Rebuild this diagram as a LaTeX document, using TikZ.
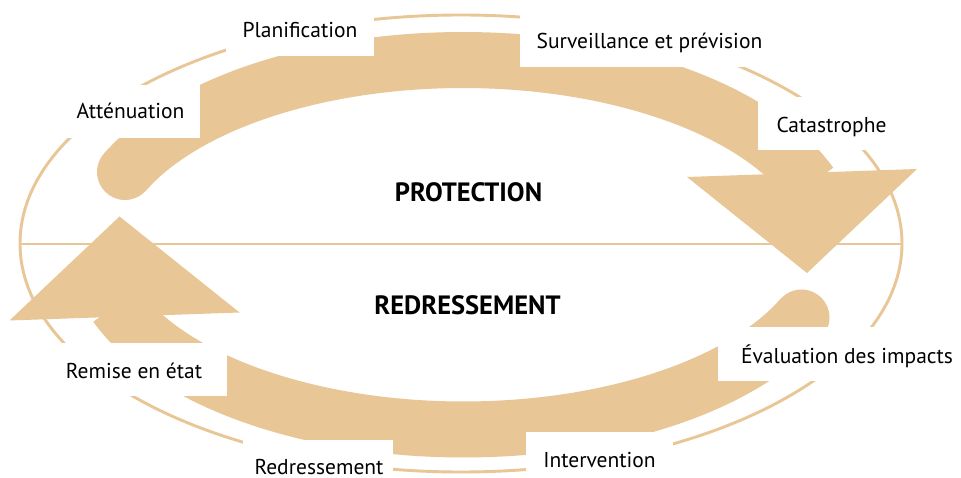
\documentclass[tikz,border=0pt]{standalone}
\usepackage{fontspec}
\setmainfont{PT Sans}
\definecolor{tan}{RGB}{232,198,150}
\begin{document}
\begin{tikzpicture}[x=1pt,y=-1pt,
  outline/.style={draw=tan,line width=2.9pt},
  band/.style={draw=tan,line width=56pt,line cap=butt},
  mask/.style={fill=white},
  lbl/.style={inner sep=0pt,anchor=base,font=\fontsize{21.5}{24}\selectfont},
  big/.style={inner sep=0pt,anchor=base,font=\fontsize{26.5}{30}\selectfont\bfseries}]
\useasboundingbox (0,0) rectangle (961,478);
\fill[white] (0,0) rectangle (961,478);
% outer ellipse and divider
\draw[outline] (461,243.5) ellipse [x radius=441, y radius=228.5];
\coordinate (hl) at (21,244);
\coordinate (hr) at (901,244);
\draw[outline] (hl) -- (hr);
% two arrows (second = first rotated 180 degrees)
\foreach \r in {0,180}{
\begin{scope}[rotate around={\r:(463.25,244.75)}]
  \draw[band] plot[domain=20:156,samples=120] ({463+370*cos(\x)},{249-189*sin(\x)});
  \fill[tan] (125,172) circle[radius=28];
  \fill[tan] (687,177) -- (917,169) -- (807,273) -- cycle;
\end{scope}}
% white label boxes
\fill[mask] (226,0) rectangle (374,56);
\fill[mask] (520,0) rectangle (770,67);
\fill[mask] (758,97) rectangle (905,150);
\fill[mask] (55,85) rectangle (200,138);
\fill[mask] (48,343) rectangle (227,396);
\fill[mask] (243,440) rectangle (393,478);
\fill[mask] (526,432) rectangle (673,478);
\fill[mask] (718,327) rectangle (961,381);
% labels
\node[lbl] (plan) at (300,38) {Planification};
\node[lbl] (surv) at (649.5,49) {Surveillance et prévision};
\node[lbl] (cata) at (831.5,133) {Catastrophe};
\node[lbl] (atte) at (130.5,119) {Atténuation};
\node[lbl] (remi) at (134,378) {Remise en état};
\node[lbl] (redr) at (319,474) {Redressement};
\node[lbl] (inte) at (599.5,467) {Intervention};
\node[lbl] (eval) at (847,363) {Évaluation des impacts};
\node[big] (prot) at (468.5,202) {PROTECTION};
\node[big] (redb) at (467.5,314) {REDRESSEMENT};
\end{tikzpicture}
\end{document}
